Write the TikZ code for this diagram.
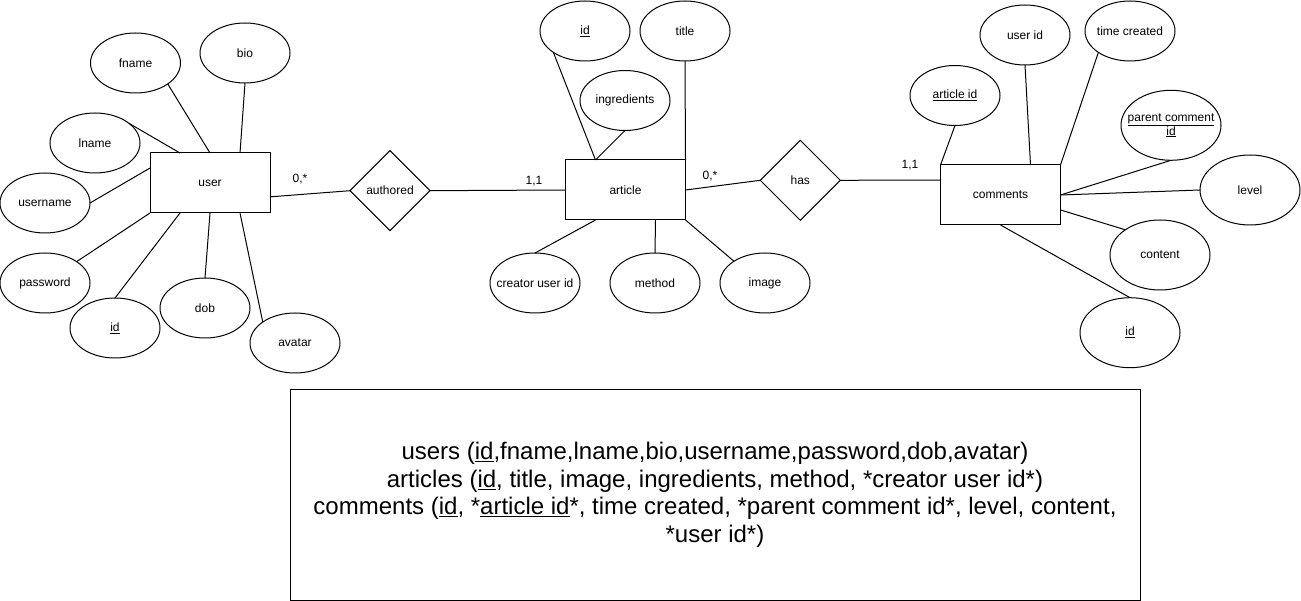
\documentclass[tikz,border=0pt]{standalone}
\usepackage{fontspec}
\setmainfont{Liberation Sans}
\usepackage{tikz}
\usetikzlibrary{shapes.geometric}

\begin{document}
\begin{tikzpicture}[
  x=1pt, y=-1pt,
  line width=1pt,
  every node/.style={font=\fontsize{12}{14}\selectfont},
  entity/.style={rectangle, draw, minimum width=120pt, minimum height=60pt, inner sep=0pt, outer sep=0pt},
  attr/.style={ellipse, draw, minimum width=90pt, minimum height=60pt, inner sep=0pt, inner xsep=-12pt, outer sep=0pt, align=center},
  bigattr/.style={attr, minimum width=100pt, minimum height=70pt},
  relation/.style={diamond, draw, minimum width=80pt, minimum height=80pt, inner sep=0pt, outer sep=0pt},
  schema/.style={rectangle, draw, minimum width=850pt, minimum height=210pt, align=center, font=\fontsize{24}{27.5}\selectfont}
]
\useasboundingbox (0,0) rectangle (1301,601);

\node[entity] (user) at (210,183) {user};
\node[attr] (fname) at (135.5,63) {fname};
\node[attr] (bio) at (245,53) {bio};
\node[attr] (lname) at (95,143) {lname};
\node[attr] (username) at (45,203) {username};
\node[attr] (password) at (45,283) {password};
\node[attr] (userkey) at (115,328) {\underline{id}};
\node[attr] (dob) at (205,308) {dob};
\node[attr] (avatar) at (295,343) {avatar};

\node[relation] (authored) at (390,190.7) {authored};

\node[entity] (article) at (625.5,190) {article};
\node[attr] (articlekey) at (585,31) {\underline{id}};
\node[attr] (title) at (685,31) {title};
\node[attr] (ingredients) at (625,100.5) {ingredients};
\node[attr] (creator) at (535,283) {creator user id};
\node[attr] (method) at (655,283) {method};
\node[attr] (image) at (765,283) {image};

\node[relation] (has) at (800.3,180.3) {has};

\node[entity] (comments) at (1000.5,195) {comments};
\node[attr] (articleid) at (955,95.5) {\underline{article id}};
\node[attr] (userid) at (1025,35) {user id};
\node[attr] (timecreated) at (1130,31) {time created};
\node[bigattr] (parentid) at (1171,125.3) {\underline{parent comment}\\\underline{id}};
\node[bigattr] (level) at (1250,190) {level};
\node[bigattr] (content) at (1160,255) {content};
\node[bigattr] (commentkey) at (1130,332.7) {\underline{id}};

\node (card1) at (300,179) {0,*};
\node (card2) at (534,181) {1,1};
\node (card3) at (710,176) {0,*};
\node (card4) at (910,165) {1,1};

\node[schema] (tables) at (715,495) {users (\underline{id},fname,lname,bio,username,password,dob,avatar)\\
articles (\underline{id}, title, image, ingredients, method, *creator user id*)\\
comments (\underline{id}, *\underline{article id}*, time created, *parent comment id*, level, content,\\
*user id*)};

\draw (fname.-33) -- (user.north);
\draw (bio.south) -- (user.45);
\draw (lname.30) -- (user.135);
\draw (username.east) -- (user.166);
\draw (password.34) -- (user.south west);
\draw (userkey.north) -- (user.-135);
\draw (dob.north) -- (user.south);
\draw (avatar.147) -- (user.-45);

\draw (user.-13) -- (authored.west);
\draw (authored.east) -- (article.west);

\draw (articlekey.214) -- (article.135);
\draw (ingredients.south) -- (article.135);
\draw (title.south) -- (article.north east);
\draw (creator.north) -- (article.-135);
\draw (method.north) -- (article.-45);
\draw (image.145) -- (article.south east);

\draw (article.east) -- (has.west);
\draw (has.east) -- (comments.166);

\draw (articleid.south) -- (comments.north west);
\draw (userid.south) -- (comments.45);
\draw (timecreated.214) -- (comments.north east);
\draw (parentid.south) -- (comments.east);
\draw (level.west) -- (comments.east);
\draw (content.144) -- (comments.-14);
\draw (commentkey.north) -- (comments.south);
\end{tikzpicture}
\end{document}
